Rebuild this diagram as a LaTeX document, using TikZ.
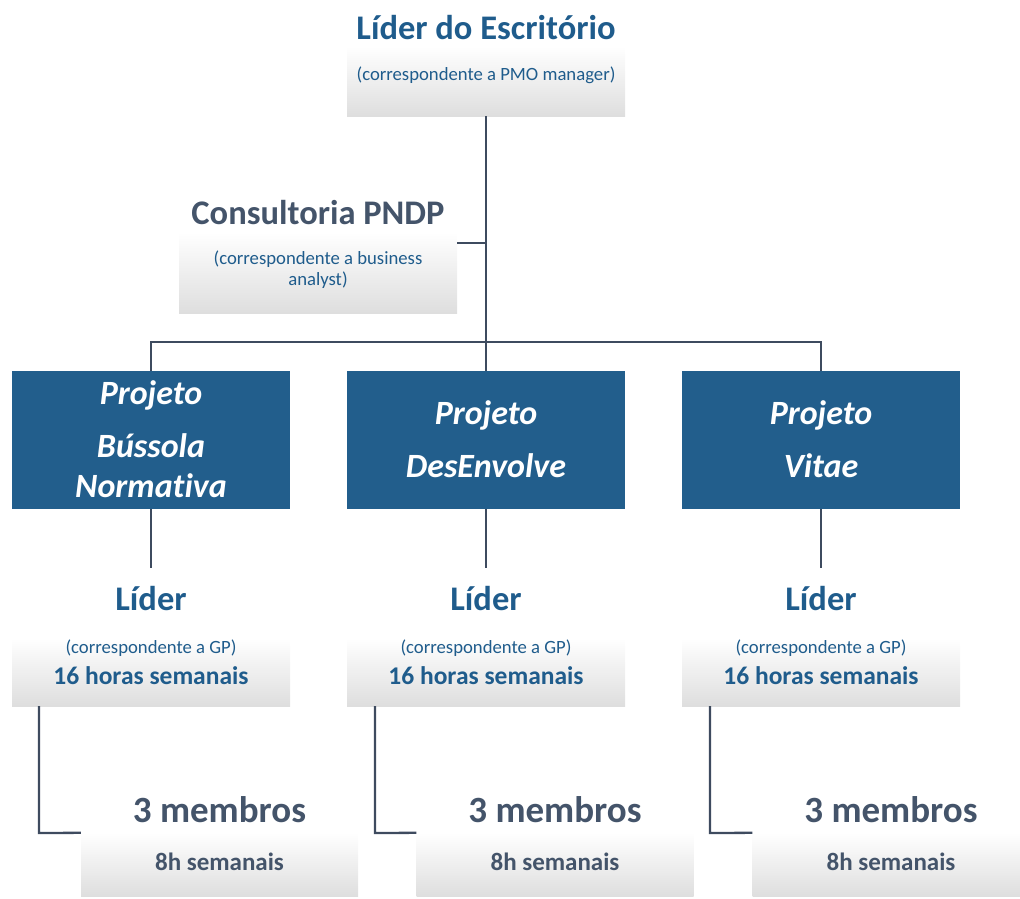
\documentclass[tikz,border=0pt]{standalone}
\usepackage{fontspec}
\setmainfont[Ligatures={NoCommon}]{Carlito}
\definecolor{txtblue}{RGB}{31,92,140}
\definecolor{txtgray}{RGB}{68,84,106}
\definecolor{projfill}{RGB}{34,94,140}
\definecolor{linecol}{RGB}{62,75,95}
\definecolor{boxgray}{RGB}{222,222,222}
\begin{document}
\begin{tikzpicture}[x=1pt,y=-1pt,
  gbox/.style={rectangle, inner sep=0pt, draw=none, top color=white, bottom color=boxgray, minimum width=278pt},
  pbox/.style={rectangle, inner sep=0pt, draw=none, fill=projfill, minimum width=278pt, minimum height=138pt},
  conn/.style={draw=linecol, line width=2.3pt},
  ttlblue/.style={anchor=base, text=txtblue, font=\bfseries\fontsize{34.5}{40}\selectfont, inner sep=0pt},
  ttlgray/.style={anchor=base, text=txtgray, font=\bfseries\fontsize{34.5}{40}\selectfont, inner sep=0pt},
  subblue/.style={anchor=base, text=txtblue, font=\fontsize{18.7}{22}\selectfont, inner sep=0pt},
  hrsblue/.style={anchor=base, text=txtblue, font=\bfseries\fontsize{25.5}{30}\selectfont, inner sep=0pt},
  hrsgray/.style={anchor=base, text=txtgray, font=\bfseries\fontsize{25}{30}\selectfont, inner sep=0pt},
  ptxt/.style={anchor=base, text=white, font=\bfseries\itshape\fontsize{34}{40}\selectfont, inner sep=0pt}
]
\useasboundingbox (0,0) rectangle (1020,898);

% top
\node[gbox, minimum height=70pt] (top) at (486,81) {};
\node[ttlblue] (toptitle) at (486,39) {Líder do Escritório};
\node[subblue] (topsub) at (486,80) {(correspondente a PMO manager)};

% consultoria
\node[gbox, minimum height=81pt] (cons) at (318,272.5) {};
\node[ttlgray] (constitle) at (318,224) {Consultoria PNDP};
\node[subblue] (conssub1) at (318,264) {(correspondente a business};
\node[subblue] (conssub2) at (318,285) {analyst)};

% projects
\node[pbox] (proj1) at (151,440) {};
\node[pbox] (proj2) at (486,440) {};
\node[pbox] (proj3) at (821,440) {};
\node[ptxt] (p1a) at (151,404) {Projeto};
\node[ptxt] (p1b) at (151,457) {Bússola};
\node[ptxt] (p1c) at (151,497) {Normativa};
\node[ptxt] (p2a) at (486,424) {Projeto};
\node[ptxt] (p2b) at (486,477) {DesEnvolve};
\node[ptxt] (p3a) at (821,424) {Projeto};
\node[ptxt] (p3b) at (821,477) {Vitae};

% leaders
\foreach \i/\x in {1/151,2/486,3/821}{
  \node[gbox, minimum height=68pt] (lb\i) at (\x,672) {};
  \node[ttlblue] (lt\i) at (\x,610) {Líder};
  \node[subblue] (ls\i) at (\x,653) {(correspondente a GP)};
  \node[hrsblue] (lh\i) at (\x,684) {16 horas semanais};
  \coordinate (le\i) at (\x,568);
}

% members
\foreach \i/\x/\k in {1/219.5/39,2/555/375,3/891/710}{
  \node[gbox, minimum width=277pt, minimum height=63pt] (mb\i) at (\x,864.5) {};
  \node[ttlgray, font=\bfseries\fontsize{37}{42}\selectfont] (mt\i) at (\x,822) {3 membros};
  \node[hrsgray] (mh\i) at (\x,870) {8h semanais};
  \coordinate (mk\i) at (\k,833);
}

% connectors
\coordinate (cj) at (486,243);
\coordinate (hj) at (486,342);
\draw[conn] (top.south) -- (proj2.north);
\draw[conn] (cj) -- (cons.east |- cj);
\draw[conn] (proj1.north) -- (proj1.north |- hj) -- (proj3.north |- hj) -- (proj3.north);
\foreach \i in {1,2,3}{
  \draw[conn] (proj\i.south) -- (le\i);
  \draw[conn] (mk\i |- lb\i.south) -- (mk\i) -- (mb\i.north west);
}
\end{tikzpicture}
\end{document}
